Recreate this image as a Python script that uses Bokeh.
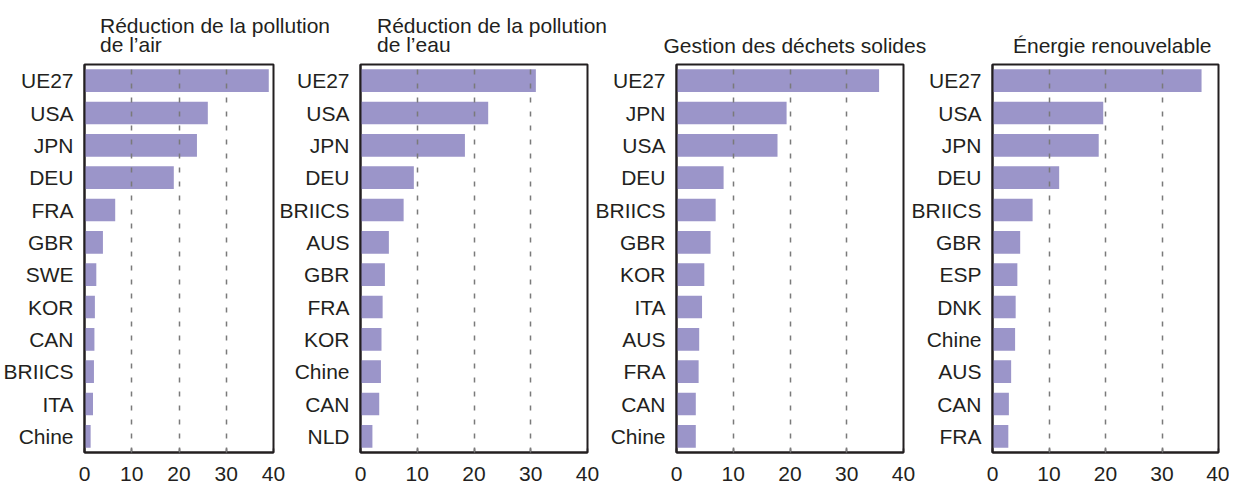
from bokeh.plotting import figure
from bokeh.layouts import row
from bokeh.models import Range1d, FactorRange, FixedTicker, Title, ColumnDataSource
from bokeh.embed import file_html
from bokeh.resources import INLINE

# ---- data ----
air_countries = ["UE27", "USA", "JPN", "DEU", "FRA", "GBR", "SWE", "KOR", "CAN", "BRIICS", "ITA", "Chine"]
air_values = [39.0, 26.1, 23.8, 18.9, 6.5, 3.9, 2.5, 2.2, 2.1, 2.0, 1.8, 1.3]

eau_countries = ["UE27", "USA", "JPN", "DEU", "BRIICS", "AUS", "GBR", "FRA", "KOR", "Chine", "CAN", "NLD"]
eau_values = [30.9, 22.5, 18.4, 9.4, 7.6, 5.0, 4.3, 3.9, 3.7, 3.6, 3.3, 2.1]

dechets_countries = ["UE27", "JPN", "USA", "DEU", "BRIICS", "GBR", "KOR", "ITA", "AUS", "FRA", "CAN", "Chine"]
dechets_values = [35.7, 19.4, 17.8, 8.3, 6.9, 6.0, 4.9, 4.5, 4.0, 3.9, 3.4, 3.4]

energie_countries = ["UE27", "USA", "JPN", "DEU", "BRIICS", "GBR", "ESP", "DNK", "Chine", "AUS", "CAN", "FRA"]
energie_values = [37.0, 19.6, 18.8, 11.8, 7.1, 4.9, 4.4, 4.1, 4.0, 3.3, 2.9, 2.8]

titles = ["Réduction de la pollution\nde l\u2019air",
          "Réduction de la pollution\nde l\u2019eau",
          "Gestion des déchets solides",
          "Énergie renouvelable"]

x_ticks = [0, 10, 20, 30, 40]

# layout per panel: title offset, left border, frame width, right border, margin-left
panels = [
    (air_countries, air_values, titles[0], 15.5, 77, 196, 56, 0),
    (eau_countries, eau_values, titles[1], 16.5, 78, 233, 32, -53),
    (dechets_countries, dechets_values, titles[2], -13, 78, 233, 32, -27),
    (energie_countries, energie_values, titles[3], 20.5, 78, 232, 11, -27),
]

TEXT = "#231f20"
BAR = "#9b95c9"
FONT = "Liberation Sans"

figs = []
for countries, values, title, toff, lb, fw, rb, ml in panels:
    src = ColumnDataSource(dict(country=countries, value=values))
    p = figure(
        width=lb + fw + rb, height=483,
        y_range=FactorRange(factors=list(reversed(countries))),
        x_range=Range1d(0, 40),
        output_backend="svg", toolbar_location=None,
        min_border_left=lb, min_border_right=rb, min_border_top=64, min_border_bottom=0,
    )
    p.border_fill_color = None
    p.background_fill_color = "white"
    p.outline_line_color = TEXT
    p.outline_line_width = 2
    p.hbar(y="country", right="value", left=0, height=0.7, source=src,
           fill_color=BAR, line_color=None)

    p.xaxis.ticker = FixedTicker(ticks=x_ticks)
    p.xaxis.major_tick_in = 4
    p.xaxis.major_tick_out = 0
    p.xaxis.minor_tick_line_color = None
    p.xaxis.major_tick_line_color = TEXT
    p.xaxis.major_tick_line_width = 1.5
    p.xaxis.axis_line_color = TEXT
    p.xaxis.axis_line_width = 2
    p.xaxis.major_label_standoff = 14
    p.xaxis.major_label_text_font = FONT
    p.xaxis.major_label_text_font_size = "21px"
    p.xaxis.major_label_text_color = TEXT

    p.yaxis.major_tick_line_color = None
    p.yaxis.minor_tick_line_color = None
    p.yaxis.axis_line_color = TEXT
    p.yaxis.axis_line_width = 2
    p.yaxis.major_label_standoff = 5
    p.yaxis.major_label_text_font = FONT
    p.yaxis.major_label_text_font_size = "21px"
    p.yaxis.major_label_text_color = TEXT

    p.ygrid.grid_line_color = None
    p.xgrid.ticker = FixedTicker(ticks=[10, 20, 30])
    p.xgrid.grid_line_color = "#7a7a7a"
    p.xgrid.grid_line_width = 1.5
    p.xgrid.grid_line_dash = "5 9"
    p.xgrid.level = "overlay"

    p.add_layout(Title(text=title, align="left", offset=toff, standoff=16,
                       text_font=FONT, text_font_size="21px", text_font_style="normal",
                       text_color=TEXT, text_line_height=0.84), "above")
    if ml:
        p.styles = {"margin-left": f"{ml}px"}
    figs.append(p)

layout = row(*figs, spacing=0)
open("out.html", "w").write(file_html(layout, INLINE))
